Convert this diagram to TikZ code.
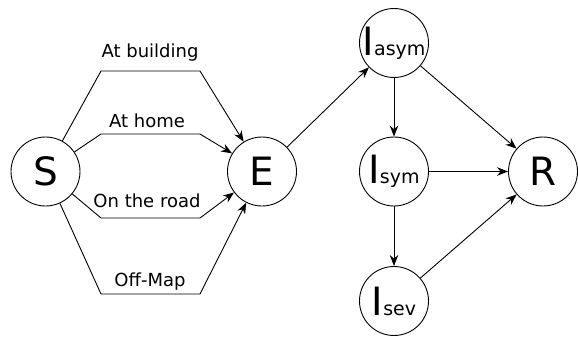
\documentclass[tikz,border=0pt]{standalone}
\usepackage{fontspec}
\setmainfont{DejaVu Sans}
\usetikzlibrary{arrows.meta}
% smaller index written on the same baseline as the main letter
\newcommand\stateidx[1]{{\fontsize{19}{19}\selectfont #1}}
\begin{document}
\begin{tikzpicture}[x=1pt,y=-1pt,
  state/.style={circle,draw,line width=0.9pt,minimum size=69pt,inner sep=0pt,
                font=\fontsize{39}{39}\selectfont},
  flow/.style={line width=0.9pt,-{Stealth[length=11pt,width=8.5pt]}},
  route/.style={font=\fontsize{18}{18}\selectfont,anchor=base,inner sep=0pt}]
\useasboundingbox (0,0) rectangle (578,337);

% compartments
\node[state] (S) at (45.5,171.5) {S};
\node[state] (E) at (262,171.5) {E};
\node[state] (Ia) at (394,43) {\makebox[0pt]{I\stateidx{asym}}};
\node[state] (Is) at (394,171.5) {\makebox[0pt]{I\stateidx{sym}}};
\node[state] (Iv) at (394,301) {\makebox[0pt]{I\stateidx{sev}}};
\node[state] (R) at (543,171.5) {R};

% exposure routes from S to E
\draw[flow] (S) -- (101,71) -- (200,71) -- (E);
\draw[flow] (S) -- (101,134) -- (200,134) -- (E);
\draw[flow] (S) -- (101,218) -- (200,218) -- (E);
\draw[flow] (S) -- (101,294) -- (200,294) -- (E);

\node[route] (lb) at (150,57) {At building};
\node[route] (lh) at (147,127) {At home};
\node[route] (lr) at (147,207) {On the road};
\node[route] (lo) at (150,286) {Off-Map};

% progression of infection
\draw[flow] (E) -- (Ia);
\draw[flow] (Ia) -- (Is);
\draw[flow] (Is) -- (Iv);
\draw[flow] (Ia) -- (R);
\draw[flow] (Is) -- (R);
\draw[flow] (Iv) -- (R);
\end{tikzpicture}
\end{document}
